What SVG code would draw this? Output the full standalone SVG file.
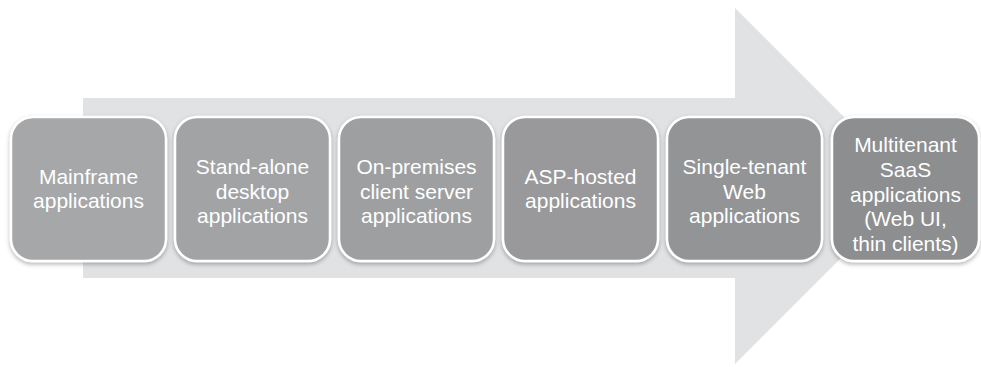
<svg xmlns="http://www.w3.org/2000/svg" width="981" height="367" viewBox="0 0 981 367">
<style>
.box{stroke:#ffffff;stroke-width:2.5;filter:url(#sh)}
.lbl{font-family:"Liberation Sans",Arial,sans-serif;font-size:21px;fill:#ffffff;text-anchor:middle}
</style>
<defs>
<filter id="sh" x="-10%" y="-10%" width="120%" height="125%">
<feDropShadow dx="0" dy="2" stdDeviation="2" flood-color="#000000" flood-opacity="0.3"/>
</filter>
</defs>
<rect width="981" height="367" fill="#ffffff"/>
<g id="arrow">
<path d="M83,98 L735,98 L735,8 L913,186 L735,364 L735,278 L83,278 Z" fill="#e1e2e3"/>
</g>
<g id="n1">
<rect class="box" x="11" y="117" width="155" height="144" rx="22" fill="#a6a7a9"/>
<text class="lbl" x="88.5" y="184">Mainframe</text>
<text class="lbl" x="88.5" y="208">applications</text>
</g>
<g id="n2">
<rect class="box" x="175" y="117" width="155" height="144" rx="22" fill="#a2a3a5"/>
<text class="lbl" x="252.5" y="174">Stand-alone</text>
<text class="lbl" x="252.5" y="198.5">desktop</text>
<text class="lbl" x="252.5" y="223">applications</text>
</g>
<g id="n3">
<rect class="box" x="339" y="117" width="155" height="144" rx="22" fill="#9e9fa1"/>
<text class="lbl" x="416.5" y="174">On-premises</text>
<text class="lbl" x="416.5" y="198.5">client server</text>
<text class="lbl" x="416.5" y="223">applications</text>
</g>
<g id="n4">
<rect class="box" x="503" y="117" width="155" height="144" rx="22" fill="#99999b"/>
<text class="lbl" x="580.5" y="184">ASP-hosted</text>
<text class="lbl" x="580.5" y="208">applications</text>
</g>
<g id="n5">
<rect class="box" x="667" y="117" width="155" height="144" rx="22" fill="#939496"/>
<text class="lbl" x="744.5" y="174">Single-tenant</text>
<text class="lbl" x="744.5" y="198.5">Web</text>
<text class="lbl" x="744.5" y="223">applications</text>
</g>
<g id="n6">
<rect class="box" x="832" y="117" width="147" height="144" rx="22" fill="#8d8e90"/>
<text class="lbl" x="905.5" y="152">Multitenant</text>
<text class="lbl" x="905.5" y="177">SaaS</text>
<text class="lbl" x="905.5" y="202">applications</text>
<text class="lbl" x="905.5" y="226">(Web UI,</text>
<text class="lbl" x="905.5" y="251">thin clients)</text>
</g>
<g id="connectors"></g>
</svg>
